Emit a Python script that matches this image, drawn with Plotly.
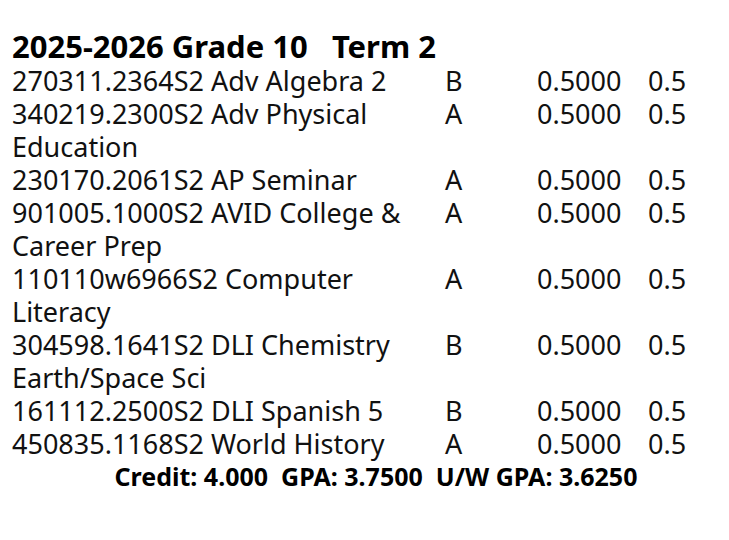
import plotly.graph_objects as go

title = "2025-2026 Grade 10   Term 2"
courses = ["270311.2364S2 Adv Algebra 2", "340219.2300S2 Adv Physical<br>Education",
           "230170.2061S2 AP Seminar", "901005.1000S2 AVID College &<br>Career Prep",
           "110110w6966S2 Computer<br>Literacy", "304598.1641S2 DLI Chemistry<br>Earth/Space Sci",
           "161112.2500S2 DLI Spanish 5", "450835.1168S2 World History"]
grades = ["B", "A", "A", "A", "A", "B", "B", "A"]
attempted = ["0.5000"] * 8
earned = ["0.5"] * 8
footer = "Credit: 4.000  GPA: 3.7500  U/W GPA: 3.6250"

# split course names into printed lines, keep line index of each course's first line
left_txt, left_line, row_line = [], [], []
line = 0
for c in courses:
    row_line.append(line)
    for part in c.split("<br>"):
        left_txt.append(part)
        left_line.append(line)
        line += 1

font = dict(family="Noto Sans, Open Sans", size=27, color="#111")
fig = go.Figure()
fig.add_trace(go.Scatter(x=[4] * len(left_txt), y=left_line, text=left_txt, mode="text",
                         textposition="middle right", textfont=font))
for xpos, col in [(437, grades), (529, attempted), (640, earned)]:
    fig.add_trace(go.Scatter(x=[xpos] * len(col), y=row_line, text=col, mode="text",
                             textposition="middle right", textfont=font))
fig.add_trace(go.Scatter(x=[4], y=[-1.03], text=["<b>" + title + "</b>"], mode="text",
                         textposition="middle right",
                         textfont=dict(family="Noto Sans, Open Sans", size=31, color="#000")))
fig.add_trace(go.Scatter(x=[368], y=[line], text=["<b>" + footer + "</b>"], mode="text",
                         textposition="middle center",
                         textfont=dict(family="Noto Sans, Open Sans", size=25, color="#000")))

fig.add_shape(type="line", x0=725, x1=725, y0=-2.4, y1=13.97, line=dict(color="#222", width=2))
fig.add_shape(type="line", x0=-5, x1=725, y0=13.97, y1=13.97, line=dict(color="#222", width=2))

fig.update_layout(width=729, height=540, margin=dict(l=0, r=0, t=0, b=0),
                  paper_bgcolor="white", plot_bgcolor="white", showlegend=False,
                  xaxis=dict(range=[0, 729], visible=False),
                  yaxis=dict(range=[14.06, -2.303], visible=False))
fig.write_html("out.html")
